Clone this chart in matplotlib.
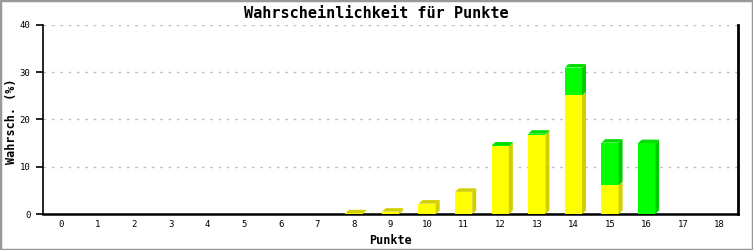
import matplotlib
matplotlib.use("Agg")
import matplotlib.pyplot as plt
from matplotlib.patches import Polygon, Rectangle

categories = list(range(19))
yellow_vals = [0, 0, 0, 0, 0, 0, 0, 0, 0.15, 0.5, 2.2, 4.7, 14.3, 16.8, 25.1, 6.1, 0, 0, 0]
green_vals  = [0, 0, 0, 0, 0, 0, 0, 0, 0, 0, 0, 0, 0.2, 0.2, 5.9, 9.0, 15.0, 0, 0]
yticks = [0, 10, 20, 30, 40]

title = "Wahrscheinlichkeit für Punkte"
xlabel = "Punkte"
ylabel = "Wahrsch. (%)"

W, H, DPI = 753, 250, 100
fig = plt.figure(figsize=(W / DPI, H / DPI), dpi=DPI)
fig.patch.set_facecolor("white")
fig.patches.append(Rectangle((0, 0), 1, 1, transform=fig.transFigure, fill=False,
                             edgecolor="#999999", linewidth=2.5, zorder=10))

L, R, T, B = 43, 738, 25, 214
ax = fig.add_axes([L / W, (H - B) / H, (R - L) / W, (B - T) / H])
ax.set_xlim(-0.5, 18.5)
ax.set_ylim(0, 40)

px_x = 19 / (R - L)
px_y = 40 / (B - T)
dx = 4 * px_x
dy = 3.5 * px_y
bw = 0.47

Y_FACE, Y_SIDE = "#ffff00", "#d2cf00"
G_FACE, G_SIDE = "#00ff00", "#00cc00"

for x, yv, gv in zip(categories, yellow_vals, green_vals):
    if yv + gv <= 0:
        continue
    x0, x1 = x - bw / 2, x + bw / 2
    segs = []
    if yv > 0:
        segs.append((0, yv, Y_FACE, Y_SIDE))
    if gv > 0:
        segs.append((yv, yv + gv, G_FACE, G_SIDE))
    for (b, t, fc, sc) in segs:
        ax.add_patch(Rectangle((x0, b), bw, t - b, facecolor=fc, edgecolor="none", zorder=3))
        ax.add_patch(Polygon([(x1, b), (x1 + dx, b + dy), (x1 + dx, t + dy), (x1, t)],
                             closed=True, facecolor=sc, edgecolor="none", zorder=3))
    top = yv + gv
    cap_c = segs[-1][3] if segs[-1][2] == Y_FACE else "#00dd00"
    ax.add_patch(Polygon([(x0, top), (x0 + dx, top + dy), (x1 + dx, top + dy), (x1, top)],
                         closed=True, facecolor=cap_c, edgecolor="none", zorder=3))

ax.set_yticks(yticks)
ax.set_xticks(categories)
ax.set_xticklabels([str(c) for c in categories])
ax.yaxis.grid(True, color="#c0c0c0", linestyle=(0, (2, 4)), linewidth=1)
ax.set_axisbelow(True)

ax.spines["top"].set_visible(False)
ax.spines["left"].set_linewidth(1.2)
ax.spines["bottom"].set_linewidth(1.8)
ax.spines["right"].set_linewidth(2)
for s in ["left", "bottom", "right"]:
    ax.spines[s].set_color("black")

mono = "DejaVu Sans Mono"
ax.tick_params(axis="y", length=5, width=1.2, direction="out", pad=4,
               labelsize=6.5, labelfontfamily=mono)
ax.tick_params(axis="x", length=0, pad=4, labelsize=6.5, labelfontfamily=mono)

fig.text(0.5, 1 - 13 / H, title, ha="center", va="center", fontsize=11,
         fontweight="bold", family=mono)
fig.text((L + R) / 2 / W, 1 - 240 / H, xlabel, ha="center", va="center", fontsize=8.5,
         fontweight="bold", family=mono)
fig.text(12 / W, 1 - 121 / H, ylabel, ha="center", va="center", fontsize=8.5,
         fontweight="bold", family=mono, rotation=90)

fig.savefig("out.png", dpi=DPI, facecolor="white")
